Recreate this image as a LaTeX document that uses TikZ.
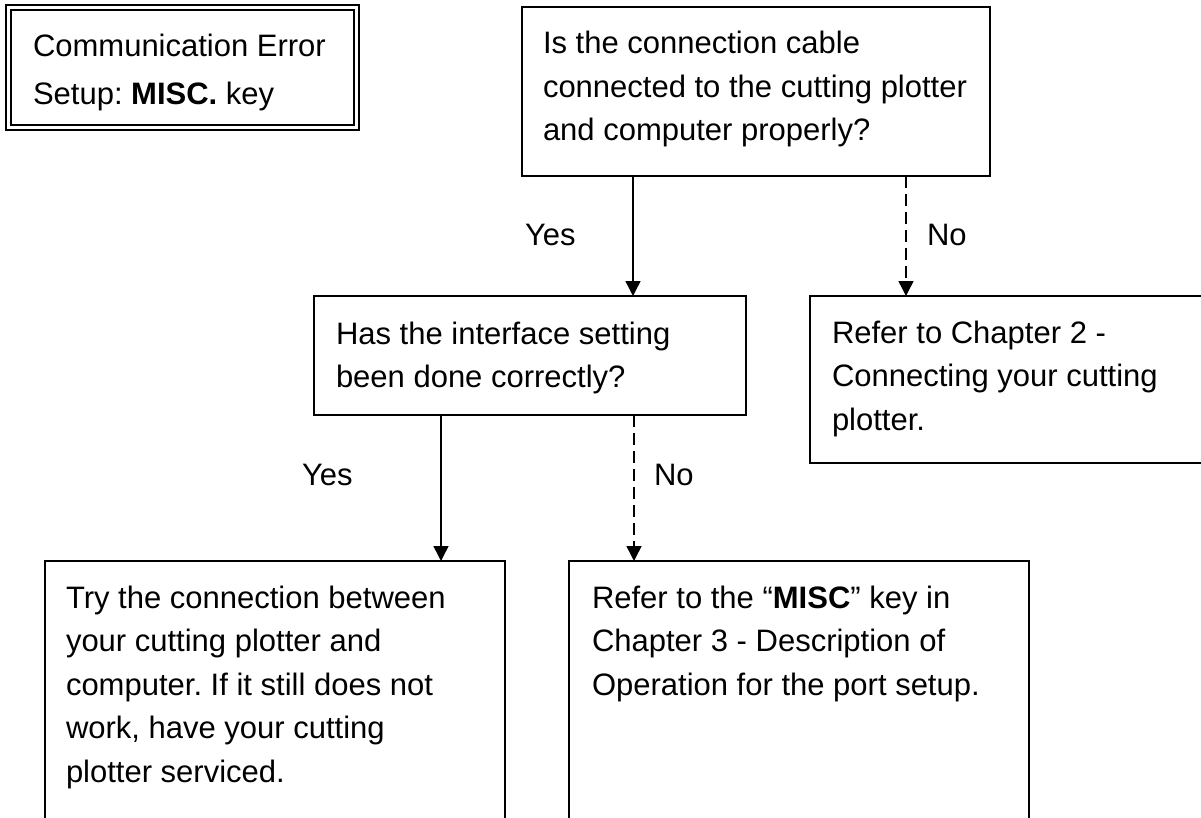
\documentclass[tikz,border=0pt]{standalone}
\usepackage{fontspec}
\setmainfont{Liberation Sans}
\usetikzlibrary{arrows.meta}
\frenchspacing
\begin{document}
\begin{tikzpicture}[x=1pt,y=-1pt,
  box/.style={draw=black, line width=1.5pt, rectangle, outer sep=0pt, inner sep=0pt, anchor=north west},
  dbox/.style={draw=black, double=white, double distance=3pt, line width=2pt, rectangle, outer sep=0pt, inner sep=0pt, anchor=north west},
  txt/.style={anchor=base west, inner sep=0pt, outer sep=0pt, font=\fontsize{31}{43.5}\selectfont\frenchspacing},
  arr/.style={line width=1.5pt, -{Triangle[width=15pt,length=15pt]}},
  dsh/.style={dash pattern=on 12pt off 6pt}]
\useasboundingbox (0,0) rectangle (1201,818);
% boxes
\node[dbox, minimum width=347.5pt, minimum height=120pt] (b1) at (8.5,8) {};
\node[box, minimum width=468pt, minimum height=169pt] (b2) at (522,7) {};
\node[box, minimum width=432pt, minimum height=119pt] (mid) at (314,296) {};
\node[box, minimum width=450pt, minimum height=167pt] (rt) at (810,296) {};
\node[box, minimum width=460pt, minimum height=289pt] (bl) at (45,561) {};
\node[box, minimum width=460pt, minimum height=289pt] (br) at (569,561) {};
% texts
\node[txt] (t11) at (33,57) {Communication Error};
\node[txt] (t12) at (33,105) {Setup: \textbf{MISC.} key};
\node[txt] (t21) at (543,54) {Is the connection cable};
\node[txt] (t22) at (543,97.5) {connected to the cutting plotter};
\node[txt] (t23) at (543,141) {and computer properly?};
\node[txt] (t31) at (336,344) {Has the interface setting};
\node[txt] (t32) at (336,387.5) {been done correctly?};
\node[txt] (t41) at (832,343) {Refer to Chapter 2 -};
\node[txt] (t42) at (832,386.5) {Connecting your cutting};
\node[txt] (t43) at (832,430) {plotter.};
\node[txt] (t51) at (66,608) {Try the connection between};
\node[txt] (t52) at (66,651.5) {your cutting plotter and};
\node[txt] (t53) at (66,695) {computer. If it still does not};
\node[txt] (t54) at (66,738.5) {work, have your cutting};
\node[txt] (t55) at (66,782) {plotter serviced.};
\node[txt] (t61) at (592,608) {Refer to the “\textbf{MISC}” key in};
\node[txt] (t62) at (592,651.5) {Chapter 3 - Description of};
\node[txt] (t63) at (592,695) {Operation for the port setup.};
% labels
\node[txt] (y1) at (525,246) {Yes};
\node[txt] (n1) at (927,246) {No};
\node[txt] (y2) at (302,485) {Yes};
\node[txt] (n2) at (654,485) {No};
% connectors
\coordinate (xa) at (633,0);
\coordinate (xb) at (906,0);
\coordinate (xc) at (441,0);
\coordinate (xd) at (634,0);
\draw[arr] (b2.south -| xa) -- (mid.north -| xa);
\draw[arr,dsh] (b2.south -| xb) -- (rt.north -| xb);
\draw[arr] (mid.south -| xc) -- (bl.north -| xc);
\draw[arr,dsh] (mid.south -| xd) -- (br.north -| xd);
\end{tikzpicture}
\end{document}
